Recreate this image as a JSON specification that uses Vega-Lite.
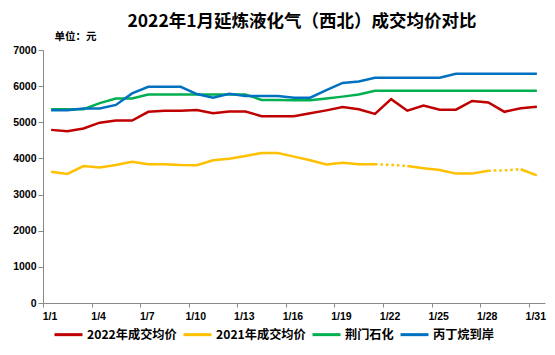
{
  "$schema": "https://vega.github.io/schema/vega-lite/v6.json",
  "autosize": "none",
  "width": 502,
  "height": 253,
  "padding": {"left": 43, "top": 50, "right": 10, "bottom": 52},
  "background": "white",
  "title": {
    "text": "2022年1月延炼液化气（西北）成交均价对比",
    "font": "Noto Sans CJK SC",
    "fontSize": 17.5,
    "fontWeight": "bold",
    "color": "#000000",
    "anchor": "middle",
    "dx": 8,
    "offset": 1
  },
  "config": {
    "view": {"stroke": null},
    "axis": {
      "domainColor": "#888888",
      "tickColor": "#888888",
      "grid": false,
      "labelFont": "Liberation Sans",
      "labelFontWeight": "bold",
      "labelFontSize": 10.5,
      "labelColor": "#000000"
    }
  },
  "datasets": {
    "main": [
      {"d":"1/1","s":"2022年成交均价","g":"r","v":4790},{"d":"1/2","s":"2022年成交均价","g":"r","v":4750},{"d":"1/3","s":"2022年成交均价","g":"r","v":4830},{"d":"1/4","s":"2022年成交均价","g":"r","v":4990},{"d":"1/5","s":"2022年成交均价","g":"r","v":5050},{"d":"1/6","s":"2022年成交均价","g":"r","v":5050},{"d":"1/7","s":"2022年成交均价","g":"r","v":5290},{"d":"1/8","s":"2022年成交均价","g":"r","v":5320},{"d":"1/9","s":"2022年成交均价","g":"r","v":5320},{"d":"1/10","s":"2022年成交均价","g":"r","v":5340},{"d":"1/11","s":"2022年成交均价","g":"r","v":5250},{"d":"1/12","s":"2022年成交均价","g":"r","v":5300},{"d":"1/13","s":"2022年成交均价","g":"r","v":5300},{"d":"1/14","s":"2022年成交均价","g":"r","v":5170},{"d":"1/15","s":"2022年成交均价","g":"r","v":5170},{"d":"1/16","s":"2022年成交均价","g":"r","v":5170},{"d":"1/17","s":"2022年成交均价","g":"r","v":5250},{"d":"1/18","s":"2022年成交均价","g":"r","v":5330},{"d":"1/19","s":"2022年成交均价","g":"r","v":5420},{"d":"1/20","s":"2022年成交均价","g":"r","v":5360},{"d":"1/21","s":"2022年成交均价","g":"r","v":5230},{"d":"1/22","s":"2022年成交均价","g":"r","v":5640},{"d":"1/23","s":"2022年成交均价","g":"r","v":5320},{"d":"1/24","s":"2022年成交均价","g":"r","v":5460},{"d":"1/25","s":"2022年成交均价","g":"r","v":5350},{"d":"1/26","s":"2022年成交均价","g":"r","v":5350},{"d":"1/27","s":"2022年成交均价","g":"r","v":5590},{"d":"1/28","s":"2022年成交均价","g":"r","v":5550},{"d":"1/29","s":"2022年成交均价","g":"r","v":5290},{"d":"1/30","s":"2022年成交均价","g":"r","v":5390},{"d":"1/31","s":"2022年成交均价","g":"r","v":5430},

      {"d":"1/1","s":"2021年成交均价","g":"y1","v":3630},{"d":"1/2","s":"2021年成交均价","g":"y1","v":3570},{"d":"1/3","s":"2021年成交均价","g":"y1","v":3790},{"d":"1/4","s":"2021年成交均价","g":"y1","v":3750},{"d":"1/5","s":"2021年成交均价","g":"y1","v":3820},{"d":"1/6","s":"2021年成交均价","g":"y1","v":3910},{"d":"1/7","s":"2021年成交均价","g":"y1","v":3840},{"d":"1/8","s":"2021年成交均价","g":"y1","v":3840},{"d":"1/9","s":"2021年成交均价","g":"y1","v":3820},{"d":"1/10","s":"2021年成交均价","g":"y1","v":3810},{"d":"1/11","s":"2021年成交均价","g":"y1","v":3950},{"d":"1/12","s":"2021年成交均价","g":"y1","v":3990},{"d":"1/13","s":"2021年成交均价","g":"y1","v":4070},{"d":"1/14","s":"2021年成交均价","g":"y1","v":4150},{"d":"1/15","s":"2021年成交均价","g":"y1","v":4150},{"d":"1/16","s":"2021年成交均价","g":"y1","v":4050},{"d":"1/17","s":"2021年成交均价","g":"y1","v":3950},{"d":"1/18","s":"2021年成交均价","g":"y1","v":3830},{"d":"1/19","s":"2021年成交均价","g":"y1","v":3880},{"d":"1/20","s":"2021年成交均价","g":"y1","v":3840},{"d":"1/21","s":"2021年成交均价","g":"y1","v":3840},{"d":"1/23","s":"2021年成交均价","g":"y2","v":3790},{"d":"1/24","s":"2021年成交均价","g":"y2","v":3730},{"d":"1/25","s":"2021年成交均价","g":"y2","v":3680},{"d":"1/26","s":"2021年成交均价","g":"y2","v":3580},{"d":"1/27","s":"2021年成交均价","g":"y2","v":3580},{"d":"1/28","s":"2021年成交均价","g":"y2","v":3660},{"d":"1/30","s":"2021年成交均价","g":"y3","v":3700},{"d":"1/31","s":"2021年成交均价","g":"y3","v":3530},

      {"d":"1/1","s":"荆门石化","g":"gr","v":5360},{"d":"1/2","s":"荆门石化","g":"gr","v":5360},{"d":"1/3","s":"荆门石化","g":"gr","v":5360},{"d":"1/4","s":"荆门石化","g":"gr","v":5530},{"d":"1/5","s":"荆门石化","g":"gr","v":5660},{"d":"1/6","s":"荆门石化","g":"gr","v":5660},{"d":"1/7","s":"荆门石化","g":"gr","v":5770},{"d":"1/8","s":"荆门石化","g":"gr","v":5770},{"d":"1/9","s":"荆门石化","g":"gr","v":5770},{"d":"1/10","s":"荆门石化","g":"gr","v":5770},{"d":"1/11","s":"荆门石化","g":"gr","v":5770},{"d":"1/12","s":"荆门石化","g":"gr","v":5770},{"d":"1/13","s":"荆门石化","g":"gr","v":5770},{"d":"1/14","s":"荆门石化","g":"gr","v":5620},{"d":"1/15","s":"荆门石化","g":"gr","v":5620},{"d":"1/16","s":"荆门石化","g":"gr","v":5610},{"d":"1/17","s":"荆门石化","g":"gr","v":5610},{"d":"1/18","s":"荆门石化","g":"gr","v":5660},{"d":"1/19","s":"荆门石化","g":"gr","v":5710},{"d":"1/20","s":"荆门石化","g":"gr","v":5770},{"d":"1/21","s":"荆门石化","g":"gr","v":5870},{"d":"1/22","s":"荆门石化","g":"gr","v":5870},{"d":"1/23","s":"荆门石化","g":"gr","v":5870},{"d":"1/24","s":"荆门石化","g":"gr","v":5870},{"d":"1/25","s":"荆门石化","g":"gr","v":5870},{"d":"1/26","s":"荆门石化","g":"gr","v":5870},{"d":"1/27","s":"荆门石化","g":"gr","v":5870},{"d":"1/28","s":"荆门石化","g":"gr","v":5870},{"d":"1/29","s":"荆门石化","g":"gr","v":5870},{"d":"1/30","s":"荆门石化","g":"gr","v":5870},{"d":"1/31","s":"荆门石化","g":"gr","v":5870},

      {"d":"1/1","s":"丙丁烷到岸","g":"b","v":5330},{"d":"1/2","s":"丙丁烷到岸","g":"b","v":5330},{"d":"1/3","s":"丙丁烷到岸","g":"b","v":5380},{"d":"1/4","s":"丙丁烷到岸","g":"b","v":5380},{"d":"1/5","s":"丙丁烷到岸","g":"b","v":5480},{"d":"1/6","s":"丙丁烷到岸","g":"b","v":5800},{"d":"1/7","s":"丙丁烷到岸","g":"b","v":5980},{"d":"1/8","s":"丙丁烷到岸","g":"b","v":5980},{"d":"1/9","s":"丙丁烷到岸","g":"b","v":5980},{"d":"1/10","s":"丙丁烷到岸","g":"b","v":5780},{"d":"1/11","s":"丙丁烷到岸","g":"b","v":5680},{"d":"1/12","s":"丙丁烷到岸","g":"b","v":5790},{"d":"1/13","s":"丙丁烷到岸","g":"b","v":5730},{"d":"1/14","s":"丙丁烷到岸","g":"b","v":5730},{"d":"1/15","s":"丙丁烷到岸","g":"b","v":5730},{"d":"1/16","s":"丙丁烷到岸","g":"b","v":5680},{"d":"1/17","s":"丙丁烷到岸","g":"b","v":5680},{"d":"1/18","s":"丙丁烷到岸","g":"b","v":5890},{"d":"1/19","s":"丙丁烷到岸","g":"b","v":6090},{"d":"1/20","s":"丙丁烷到岸","g":"b","v":6130},{"d":"1/21","s":"丙丁烷到岸","g":"b","v":6230},{"d":"1/22","s":"丙丁烷到岸","g":"b","v":6230},{"d":"1/23","s":"丙丁烷到岸","g":"b","v":6230},{"d":"1/24","s":"丙丁烷到岸","g":"b","v":6230},{"d":"1/25","s":"丙丁烷到岸","g":"b","v":6230},{"d":"1/26","s":"丙丁烷到岸","g":"b","v":6340},{"d":"1/27","s":"丙丁烷到岸","g":"b","v":6340},{"d":"1/28","s":"丙丁烷到岸","g":"b","v":6340},{"d":"1/29","s":"丙丁烷到岸","g":"b","v":6340},{"d":"1/30","s":"丙丁烷到岸","g":"b","v":6340},{"d":"1/31","s":"丙丁烷到岸","g":"b","v":6340}
    ],
    "dotted": [
      {"d":"1/21","g":"d1","v":3840},{"d":"1/22","g":"d1","v":3820},{"d":"1/23","g":"d1","v":3790},
      {"d":"1/28","g":"d2","v":3660},{"d":"1/29","g":"d2","v":3670},{"d":"1/30","g":"d2","v":3700}
    ]
  },
  "encoding": {
    "x": {
      "field": "d",
      "type": "ordinal",
      "scale": {"type": "band", "paddingInner": 0, "paddingOuter": 0.002, "domain": ["1/1","1/2","1/3","1/4","1/5","1/6","1/7","1/8","1/9","1/10","1/11","1/12","1/13","1/14","1/15","1/16","1/17","1/18","1/19","1/20","1/21","1/22","1/23","1/24","1/25","1/26","1/27","1/28","1/29","1/30","1/31"]},
      "axis": {
        "title": null,
        "values": ["1/1","1/4","1/7","1/10","1/13","1/16","1/19","1/22","1/25","1/28","1/31"],
        "labelAngle": 0,
        "tickOffset": -8.1,
        "labelOffset": 6.5,
        "labelFlush": false,
        "labelOverlap": false,
        "labelBound": false,
        "tickSize": 4,
        "labelPadding": 4
      }
    },
    "y": {
      "field": "v",
      "type": "quantitative",
      "scale": {"domain": [0, 7000], "nice": false},
      "axis": {
        "values": [0,1000,2000,3000,4000,5000,6000,7000],
        "format": "d",
        "tickSize": 5,
        "labelPadding": 2,
        "title": "单位：元",
        "titleAngle": 0,
        "titleAlign": "left",
        "titleBaseline": "alphabetic",
        "titleX": 11,
        "titleY": -11,
        "titleFont": "Noto Sans CJK SC",
        "titleFontSize": 10.5,
        "titleFontWeight": "bold",
        "titleColor": "#000000"
      }
    }
  },
  "layer": [
    {
      "data": {"name": "main"},
      "mark": {"type": "line", "strokeWidth": 2.5},
      "encoding": {
        "color": {
          "field": "s",
          "type": "nominal",
          "scale": {
            "domain": ["2022年成交均价", "2021年成交均价", "荆门石化", "丙丁烷到岸"],
            "range": ["#C00000", "#FFC000", "#00B050", "#0070C0"]
          },
          "legend": {
            "title": null,
            "orient": "none",
            "direction": "horizontal",
            "legendX": 10,
            "legendY": 269,
            "symbolType": "stroke",
            "symbolSize": 784,
            "symbolStrokeWidth": 3,
            "labelFont": "Noto Sans CJK SC",
            "labelFontSize": 12.2,
            "labelFontWeight": "bold",
            "labelColor": "#000000",
            "labelOffset": 3,
            "columnPadding": 0
          }
        },
        "detail": {"field": "g"}
      }
    },
    {
      "data": {"name": "dotted"},
      "mark": {"type": "line", "strokeWidth": 2.5, "color": "#FFC000", "strokeDash": [2.5, 3]},
      "encoding": {
        "detail": {"field": "g"}
      }
    }
  ]
}
